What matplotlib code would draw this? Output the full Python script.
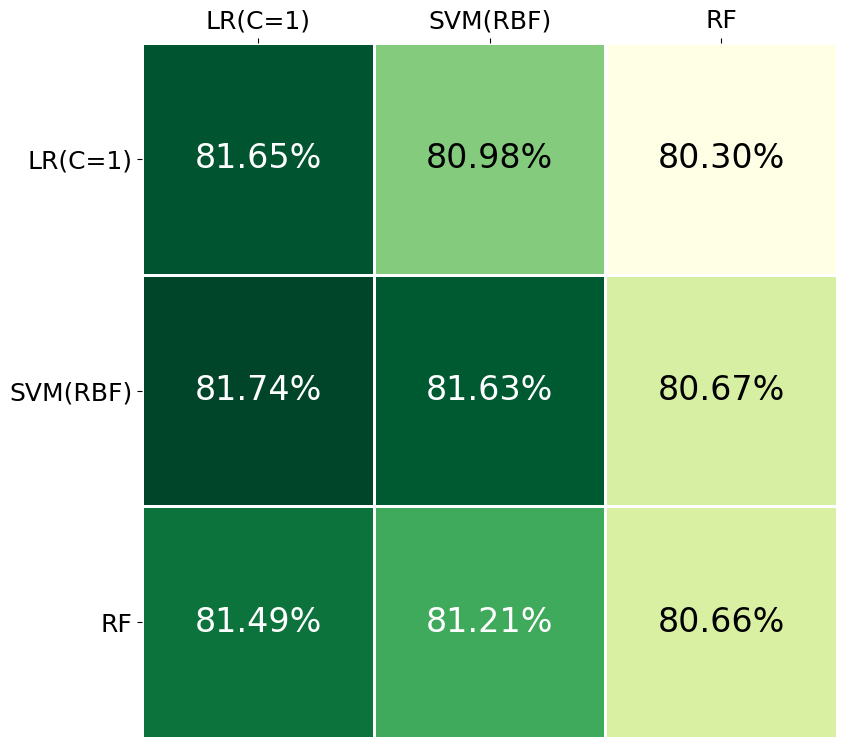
import numpy as np
import matplotlib.pyplot as plt

# Модели и точность (строки / столбцы)
models = ["LR(C=1)", "SVM(RBF)", "RF"]
acc = np.array([
    [81.65, 80.98, 80.30],
    [81.74, 81.63, 80.67],
    [81.49, 81.21, 80.66],
])

fig = plt.figure(figsize=(8.47, 7.48), dpi=100)
ax = fig.add_axes([0.168, 0.0134, 0.820, 0.929])

ax.pcolormesh(acc, cmap="YlGn", vmin=acc.min(), vmax=acc.max(),
              edgecolors="white", linewidth=2)
ax.set_xlim(0, 3)
ax.set_ylim(3, 0)

thr = acc.min() + 0.55 * (acc.max() - acc.min())
for i in range(3):
    for j in range(3):
        ax.text(j + 0.5, i + 0.5, f"{acc[i, j]:.2f}%", ha="center", va="center",
                fontsize=24, color="white" if acc[i, j] > thr else "black")

ax.set_xticks(np.arange(3) + 0.5)
ax.set_yticks(np.arange(3) + 0.5)
ax.set_xticklabels(models, fontsize=18)
ax.set_yticklabels(models, fontsize=18)
ax.xaxis.tick_top()
for s in ax.spines.values():
    s.set_visible(False)

plt.savefig("out.png")
